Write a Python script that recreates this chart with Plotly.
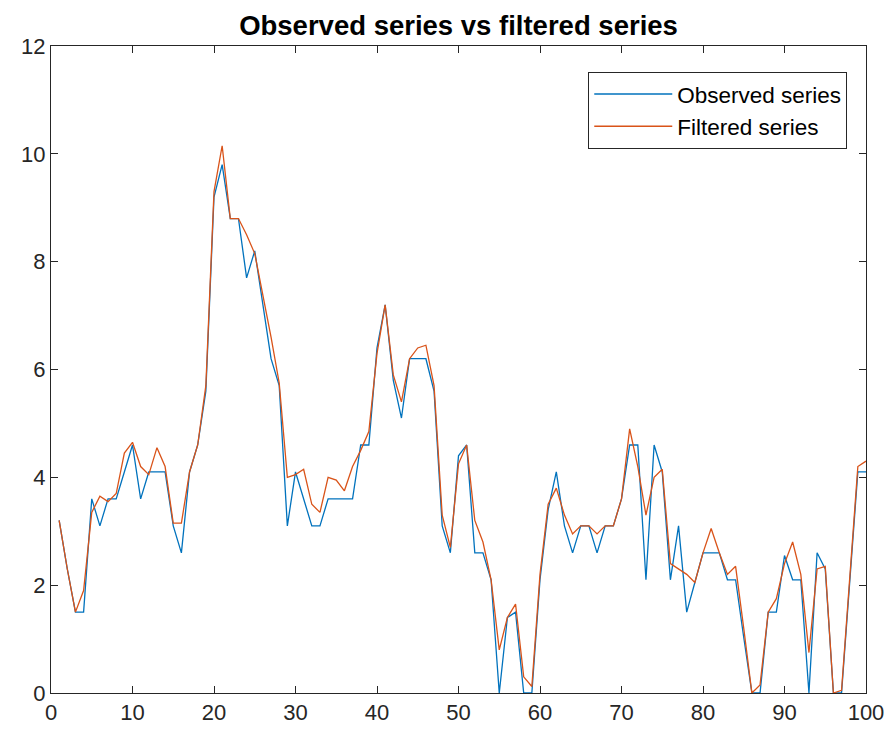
import plotly.graph_objects as go

# Time index
t = list(range(1, 101))

# Observed series (blue)
observed = [
    3.2, 2.3, 1.5, 1.5, 3.6, 3.1, 3.6, 3.6, 4.1, 4.6,
    3.6, 4.1, 4.1, 4.1, 3.1, 2.6, 4.1, 4.6, 5.6, 9.2,
    9.8, 8.8, 8.8, 7.7, 8.2, 7.2, 6.2, 5.7, 3.1, 4.1,
    3.6, 3.1, 3.1, 3.6, 3.6, 3.6, 3.6, 4.6, 4.6, 6.4,
    7.2, 5.8, 5.1, 6.2, 6.2, 6.2, 5.6, 3.1, 2.6, 4.4,
    4.6, 2.6, 2.6, 2.1, 0.0, 1.4, 1.5, 0.0, 0.0, 2.1,
    3.4, 4.1, 3.1, 2.6, 3.1, 3.1, 2.6, 3.1, 3.1, 3.6,
    4.6, 4.6, 2.1, 4.6, 4.1, 2.1, 3.1, 1.5, 2.05, 2.6,
    2.6, 2.6, 2.1, 2.1, 1.03, 0.0, 0.0, 1.5, 1.5, 2.55,
    2.1, 2.1, 0.0, 2.6, 2.3, 0.0, 0.0, 2.05, 4.1, 4.1,
]

# Filtered series (orange)
filtered = [
    3.2, 2.3, 1.5, 1.9, 3.35, 3.65, 3.55, 3.7, 4.45, 4.65,
    4.2, 4.05, 4.55, 4.2, 3.15, 3.15, 4.1, 4.6, 5.7, 9.3,
    10.15, 8.8, 8.8, 8.5, 8.15, 7.4, 6.6, 5.75, 4.0, 4.05,
    4.15, 3.5, 3.35, 4.0, 3.95, 3.75, 4.2, 4.5, 4.85, 6.3,
    7.2, 5.9, 5.4, 6.2, 6.4, 6.45, 5.7, 3.3, 2.7, 4.25,
    4.6, 3.2, 2.8, 2.1, 0.8, 1.4, 1.65, 0.3, 0.12, 2.2,
    3.5, 3.8, 3.3, 2.95, 3.1, 3.1, 2.95, 3.1, 3.1, 3.6,
    4.9, 4.2, 3.3, 4.0, 4.15, 2.4, 2.3, 2.2, 2.05, 2.6,
    3.05, 2.6, 2.2, 2.35, 1.2, 0.0, 0.15, 1.5, 1.75, 2.4,
    2.8, 2.2, 0.75, 2.3, 2.35, 0.0, 0.05, 2.1, 4.2, 4.3,
]

x_ticks = [0, 10, 20, 30, 40, 50, 60, 70, 80, 90, 100]
y_ticks = [0, 2, 4, 6, 8, 10, 12]

axis_color = "#262626"
font_family = "Liberation Sans, Arial, Helvetica, sans-serif"

fig = go.Figure()
fig.add_trace(go.Scatter(
    x=t, y=observed, mode="lines", name="Observed series",
    line=dict(color="#0072BD", width=1.3),
))
fig.add_trace(go.Scatter(
    x=t, y=filtered, mode="lines", name="Filtered series",
    line=dict(color="#D95319", width=1.3),
))

axis_common = dict(
    showline=True, linecolor=axis_color, linewidth=1,
    mirror="ticks", ticks="inside", ticklen=7, tickwidth=1,
    tickcolor=axis_color, showgrid=False, zeroline=False,
    tickfont=dict(family=font_family, size=22, color=axis_color),
)

fig.update_layout(
    width=896, height=737,
    margin=dict(l=51, r=23, t=46, b=43),
    paper_bgcolor="white", plot_bgcolor="white",
    title=dict(
        text="<b>Observed series vs filtered series</b>",
        x=0.5, xref="paper", xanchor="center",
        y=1 - 25 / 737, yref="container", yanchor="middle",
        font=dict(family=font_family, size=27.5, color="black"),
    ),
    xaxis=dict(range=[0, 100], tickvals=x_ticks, **axis_common),
    yaxis=dict(range=[0, 12], tickvals=y_ticks, **axis_common),
    legend=dict(
        x=0.977, y=0.96, xanchor="right", yanchor="top",
        bgcolor="white", bordercolor=axis_color, borderwidth=1,
        font=dict(family=font_family, size=22.5, color="black"),
        itemwidth=78, tracegroupgap=0,
    ),
    showlegend=True,
)

fig.write_html("out.html")
